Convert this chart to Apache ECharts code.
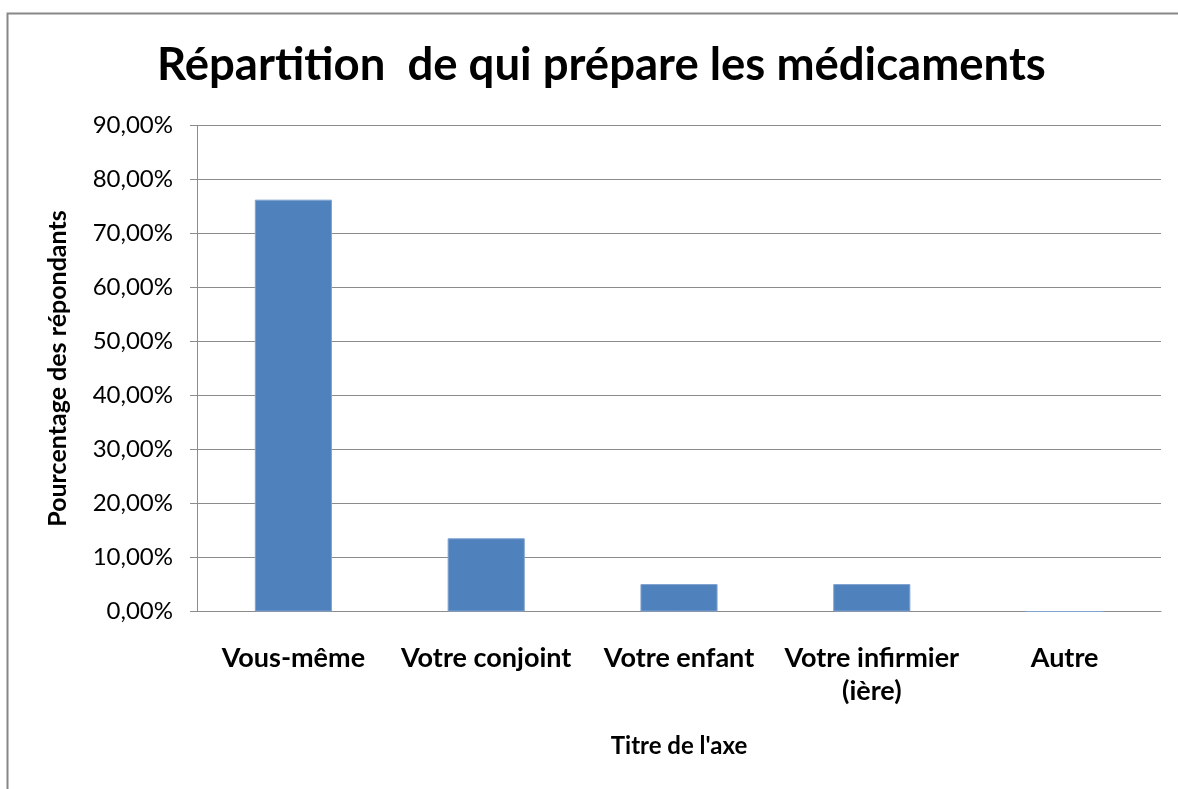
<!DOCTYPE html>
<html>
<head>
<meta charset="utf-8">
<script src="https://cdn.jsdelivr.net/npm/echarts@6/dist/echarts.min.js"></script>
<style>
  html,body{margin:0;padding:0;background:#fff}
  #root{width:1178px;height:789px}
</style>
</head>
<body>
<div id="root"></div>
<script>
// data
const categories = ['Vous-même', 'Votre conjoint', 'Votre enfant', 'Votre infirmier (ière)', 'Autre'];
const percentages = [76.27, 13.56, 5.08, 5.08, 0];
const yTicks = { min: 0, max: 90, interval: 10 };

const FONT = 'Lato, "Open Sans", sans-serif';
const GRID_COLOR = '#8c8c8c';

const chart = echarts.init(document.getElementById('root'), null, { renderer: 'canvas' });
chart.setOption({
  animation: false,
  backgroundColor: '#fff',
  title: {
    text: 'Répartition  de qui prépare les médicaments',
    left: 152,
    top: 37,
    textStyle: { fontFamily: FONT, fontWeight: 'bold', fontSize: 45.5, color: '#000' }
  },
  graphic: [{
    type: 'rect',
    shape: { x: 7.5, y: 13.5, width: 1200, height: 800 },
    style: { fill: 'none', stroke: '#888', lineWidth: 2 },
    silent: true
  }],
  grid: { left: 197, right: 17, top: 125.5, bottom: 177.5 },
  xAxis: {
    type: 'category',
    data: categories,
    name: 'Titre de l\'axe',
    nameLocation: 'middle',
    nameGap: 123,
    nameTextStyle: { fontFamily: FONT, fontWeight: 'bold', fontSize: 24, color: '#000' },
    axisLine: { lineStyle: { color: GRID_COLOR, width: 1 } },
    axisTick: { show: false },
    axisLabel: {
      interval: 0,
      margin: 30,
      fontFamily: FONT, fontWeight: 'bold', fontSize: 27, color: '#000', lineHeight: 33,
      formatter: (v) => v.replace(' (', '\n(')
    }
  },
  yAxis: {
    type: 'value',
    min: yTicks.min, max: yTicks.max, interval: yTicks.interval,
    name: 'Pourcentage des répondants',
    nameLocation: 'middle',
    nameGap: 127,
    nameTextStyle: { fontFamily: FONT, fontWeight: 'bold', fontSize: 25, color: '#000' },
    axisLine: { show: true, lineStyle: { color: GRID_COLOR, width: 1 } },
    axisTick: { show: true, length: 7, lineStyle: { color: GRID_COLOR } },
    splitLine: { lineStyle: { color: GRID_COLOR, width: 1 } },
    axisLabel: {
      margin: 24,
      fontFamily: FONT, fontSize: 24, color: '#000',
      formatter: (v) => v.toFixed(2).replace('.', ',') + '%'
    }
  },
  series: [{
    type: 'bar',
    data: percentages,
    barCategoryGap: '60%',
    itemStyle: { color: '#4f81bd', borderColor: '#7fa3d0', borderWidth: 1 }
  }]
});
</script>
</body>
</html>
